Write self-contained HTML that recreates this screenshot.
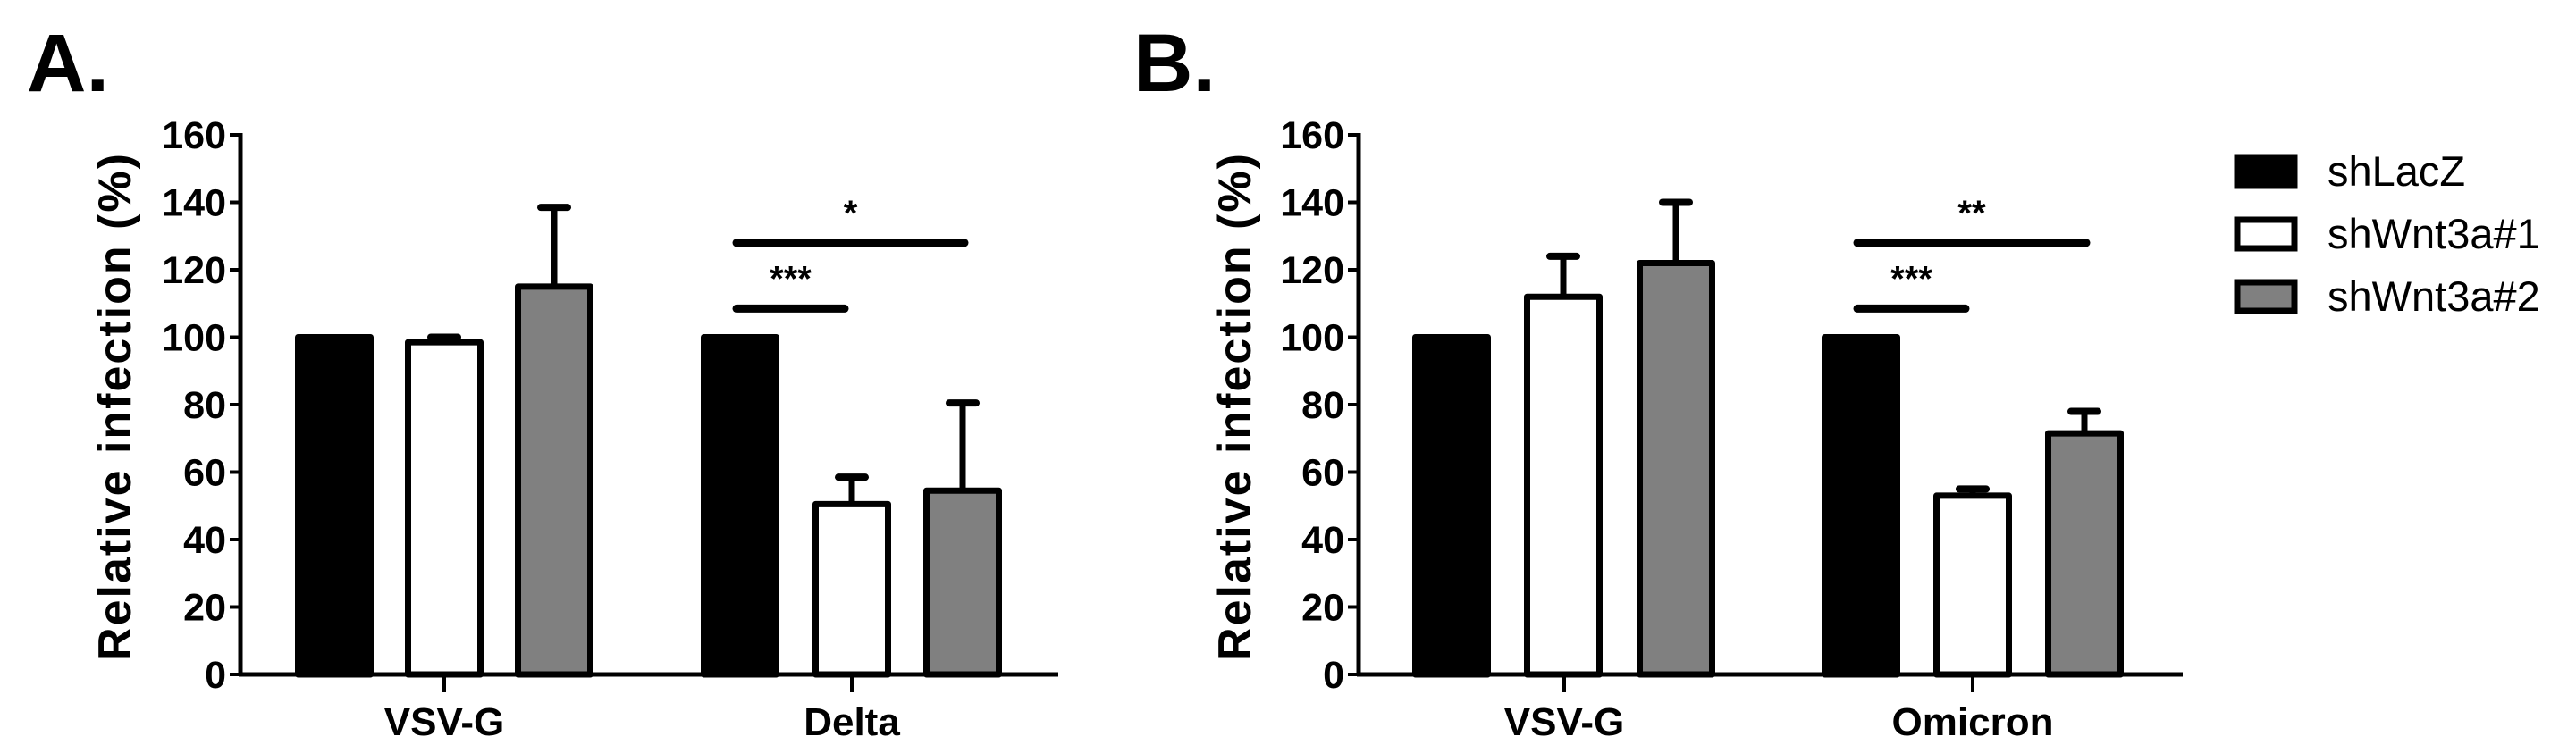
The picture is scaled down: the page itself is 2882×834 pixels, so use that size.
<!DOCTYPE html>
<html><head><meta charset="utf-8"><style>
html,body{margin:0;padding:0;background:#fff;}
svg{display:block;font-family:"Liberation Sans",Arial,sans-serif;}
</style></head><body>
<svg id="fig" width="2882" height="834" viewBox="0 0 2882 834" xmlns="http://www.w3.org/2000/svg"></svg>
<script>
const categoriesA = ["VSV-G", "Delta"];
const categoriesB = ["VSV-G", "Omicron"];
const seriesNames = ["shLacZ", "shWnt3a#1", "shWnt3a#2"];
const meanA = [[100, 98.5, 115], [100, 50.5, 54.5]];
const errTopA = [[100, 100, 138.5], [100, 58.5, 80.5]];
const meanB = [[100, 112, 122], [100, 53, 71.5]];
const errTopB = [[100, 124, 140], [100, 55, 78]];
const yTicks = [0, 20, 40, 60, 80, 100, 120, 140, 160];
const sigA = [{g:1, a:0, b:1, lvl:108.5, label:"***"}, {g:1, a:0, b:2, lvl:128, label:"*"}];
const sigB = [{g:1, a:0, b:1, lvl:108.5, label:"***"}, {g:1, a:0, b:2, lvl:128, label:"**"}];

const NS = "http://www.w3.org/2000/svg";
const svg = document.getElementById("fig");
const fills = ["#000", "#fff", "#808080"];
function mk(tag, attrs, parent){const e=document.createElementNS(NS,tag);for(const k in attrs)e.setAttribute(k,attrs[k]);(parent||svg).appendChild(e);return e;}

function panel(cfg){
  const g = mk("g", {});
  
  
  const y0 = 755, y160 = 151;
  const Y = v => y0 - (v/160)*(y0-y160);
  const L = mk("text", {x:cfg.letterX, y:102, "font-size":92, "font-weight":"bold"}, g);
  L.textContent = cfg.letter;
  
  
  for (let c=0;c<cfg.means.length;c++){
    for (let s=0;s<3;s++){
      const x = cfg.barX[c][s], w = cfg.barW;
      const top = Y(cfg.means[c][s]), et = Y(cfg.errs[c][s]);
      if (cfg.errs[c][s] > cfg.means[c][s]+0.5){
        const eb = mk("g", {}, g);
        
        
        mk("line",{x1:x+w/2,x2:x+w/2,y1:top,y2:et,stroke:"#000","stroke-width":7},eb);
        mk("line",{x1:x+w/2-15,x2:x+w/2+15,y1:et,y2:et,stroke:"#000","stroke-width":8,"stroke-linecap":"round"},eb);
      }
      const r = mk("rect",{x:x+3.5,y:top,width:w-7,height:y0-top,fill:fills[s],stroke:"#000","stroke-width":7,"stroke-linejoin":"round"},g);
      
      
    }
  }
  const ya = mk("line",{x1:cfg.axisX,x2:cfg.axisX,y1:y160-2,y2:y0+2,stroke:"#000","stroke-width":5},g);
  
  
  const xa = mk("line",{x1:cfg.axisX-2,x2:cfg.axisEnd,y1:y0,y2:y0,stroke:"#000","stroke-width":5},g);
  
  
  for (const t of yTicks){
    mk("line",{x1:cfg.axisX-12,x2:cfg.axisX,y1:Y(t),y2:Y(t),stroke:"#000","stroke-width":4},g);
    const tl = mk("text",{x:cfg.axisX-16,y:Y(t)+15,"font-size":43,"font-weight":"bold","text-anchor":"end"},g);
    tl.textContent = t;
    
    
  }
  for (let c=0;c<cfg.cats.length;c++){
    const cx = cfg.tickX[c];
    mk("line",{x1:cx,x2:cx,y1:y0,y2:y0+20,stroke:"#000","stroke-width":4},g);
    const cl = mk("text",{x:cx,y:823,"font-size":44,"font-weight":"bold","text-anchor":"middle"},g);
    cl.textContent = cfg.cats[c];
    
    
  }
  const yt = mk("text",{x:0,y:0,"font-size":52,"font-weight":"bold","letter-spacing":2,"text-anchor":"middle",transform:`translate(${cfg.titleX},455) rotate(-90)`},g);
  yt.textContent = "Relative infection (%)";
  
  
  for (const s of cfg.sig){
    const xa1 = cfg.barX[s.g][s.a] + 40, xb = cfg.barX[s.g][s.b] + cfg.barW/2 - 8 + (s.b===2?10:0);
    const yy = Y(s.lvl);
    const sl = mk("line",{x1:xa1,x2:xb,y1:yy,y2:yy,stroke:"#000","stroke-width":9,"stroke-linecap":"round"},g);
    
    
    const st = mk("text",{x:(xa1+xb)/2,y:yy-20,"font-size":40,"font-weight":"bold","text-anchor":"middle"},g);
    st.textContent = s.label;
    
    
  }
}

panel({name:"panel-a", letter:"A.", letterX:30, axisX:269, axisEnd:1184, titleX:146, cats:categoriesA,
  means:meanA, errs:errTopA, barW:88, tickX:[497,953],
  barX:[[330,453,576],[784,909,1033]], sig:sigA});
panel({name:"panel-b", letter:"B.", letterX:1268, axisX:1520, axisEnd:2442, titleX:1399, cats:categoriesB,
  means:meanB, errs:errTopB, barW:88, tickX:[1750,2207],
  barX:[[1580,1705,1831],[2038,2163,2288]], sig:sigB});

const lg = mk("g",{});


const ly = [192, 262, 332];
for (let i=0;i<3;i++){
  const e = mk("g",{},lg);
  
  
  mk("rect",{x:2503,y:ly[i]-16,width:64,height:32,fill:fills[i],stroke:"#000","stroke-width":7},e);
  const t = mk("text",{x:2604,y:ly[i]+16,"font-size":47},e);
  t.textContent = seriesNames[i];
}
</script>
</body></html>
